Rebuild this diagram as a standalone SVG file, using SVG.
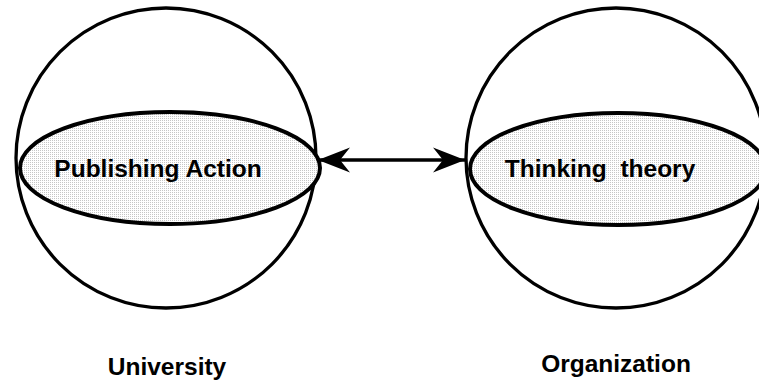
<svg xmlns="http://www.w3.org/2000/svg" width="759" height="380" viewBox="0 0 759 380">
  <style>
    .sphere { fill: none; stroke: #000; stroke-width: 3.3; }
    .band { fill: url(#stipple); stroke: #000; stroke-width: 4; }
    .label { font-family: "Liberation Sans", Arial, sans-serif; font-weight: bold; font-size: 24.5px; fill: #000; text-anchor: middle; white-space: pre; }
    .link { stroke: #000; stroke-width: 3.3; fill: none; }
  </style>
  <defs>
    <!-- fine grey dot screen used inside the bands -->
    <pattern id="stipple" width="2" height="2" patternUnits="userSpaceOnUse">
      <rect width="2" height="2" fill="#ffffff"/>
      <rect width="1" height="1" fill="#c6c6c6"/>
    </pattern>
    <marker id="barb" viewBox="-34 -14 36 28" refX="0" refY="0" markerWidth="36" markerHeight="28" markerUnits="userSpaceOnUse" orient="auto-start-reverse">
      <path d="M0,0 L-32,-12.5 L-22,0 L-32,12.5 Z" fill="#000"/>
    </marker>
  </defs>

  <g id="university">
    <circle class="sphere" cx="166" cy="158" r="150"/>
    <ellipse class="band" cx="170" cy="168" rx="150" ry="56"/>
    <text class="label" x="158" y="177">Publishing Action</text>
    <text class="label" x="167" y="375">University</text>
  </g>

  <g id="organization">
    <circle class="sphere" cx="616" cy="158" r="150"/>
    <ellipse class="band" cx="618" cy="169" rx="148" ry="56"/>
    <text class="label" x="600" y="177">Thinking  theory</text>
    <text class="label" x="616" y="372">Organization</text>
  </g>

  <g id="connectors">
    <line class="link" x1="318" y1="160" x2="465" y2="160" marker-start="url(#barb)" marker-end="url(#barb)"/>
  </g>
</svg>
